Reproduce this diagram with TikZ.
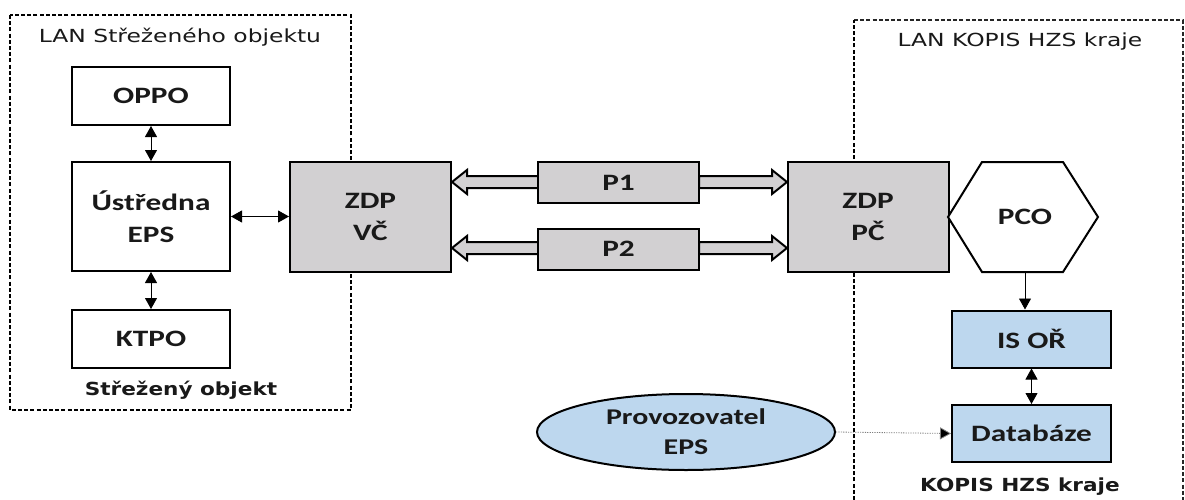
\documentclass[tikz,border=0pt]{standalone}
\usepackage{fontspec}
\usetikzlibrary{arrows.meta,shapes.geometric,calc}
\newfontfamily\boxfont{Carlito}[FakeStretch=1.33]
\newfontfamily\titlefont{DejaVu Sans}[FakeStretch=1.3]
\newfontfamily\capfont{DejaVu Sans}[FakeStretch=1.2]
\definecolor{boxgrey}{RGB}{210,208,210}
\definecolor{boxblue}{RGB}{189,215,238}
\definecolor{txt}{RGB}{25,25,25}
\tikzset{
  blk/.style={draw=black, line width=2pt, minimum width=158pt, minimum height=58pt, align=center, text=txt,
    font=\boxfont\bfseries\fontsize{23.5}{32}\selectfont, inner sep=0pt},
  greybox/.style={blk, fill=boxgrey, minimum width=161pt, minimum height=110pt},
  pbox/.style={blk, fill=boxgrey, minimum width=161pt, minimum height=41pt},
  bluebox/.style={blk, fill=boxblue, minimum width=159pt, minimum height=57pt},
  lanbox/.style={draw=black, line width=1.2pt, dash pattern=on 4pt off 2.2pt},
  lanbox2/.style={draw=black!85, line width=1.1pt, dash pattern=on 4pt off 2.2pt},
  titletxt/.style={font=\titlefont\fontsize{18}{20}\selectfont, text=txt, inner sep=0pt},
  captxt/.style={font=\capfont\bfseries\fontsize{18}{20}\selectfont, text=txt, inner sep=0pt},
  conn/.style={line width=0.9pt, {Triangle[length=11pt,width=12pt]}-{Triangle[length=11pt,width=12pt]}},
  oneway/.style={line width=0.9pt, -{Triangle[length=11pt,width=12pt]}},
  dotarrow/.style={draw=black!50, line width=0.8pt, dash pattern=on 1.2pt off 1.2pt, -{Triangle[length=11pt,width=12pt,fill=black]}},
  fat/.style={fill=boxgrey, draw=black, line width=2pt, line join=miter},
}
\begin{document}
\begin{tikzpicture}[x=1pt,y=-1pt]
\useasboundingbox (0,0) rectangle (1185,500);
\fill[white] (0,0) rectangle (1185,500);
% LAN boxes
\draw[lanbox] (10,15) rectangle (351,410);
\draw[lanbox2] (854,20) -- (1183,20) -- (1183,500);
\draw[lanbox] (854,500) -- (854,20);
\node[titletxt] (lanL) at (180,37) {LAN Střeženého objektu};
\node[titletxt] (lanR) at (1020,42) {LAN KOPIS HZS kraje};
% left nodes
\node[blk, fill=white] (oppo) at (151,96) {OPPO};
\node[blk, fill=white, minimum height=109pt] (ustr) at (151,216.5) {Ústředna\\EPS};
\node[blk, fill=white] (ktpo) at (151,339) {KTPO};
\node[captxt] (strez) at (181,390) {Střežený objekt};
% ZDP
\node[greybox] (zdpv) at (370.5,216.5) {ZDP\\VČ};
\node[greybox] (zdpp) at (868,217) {ZDP\\PČ};
% P boxes with fat arrows
\filldraw[fat] (538,176) -- (467,176) -- (467,170) -- (452,182) -- (467,194) -- (467,188) -- (538,188) -- cycle;
\filldraw[fat] (699,176) -- (772,176) -- (772,170) -- (787,182) -- (772,194) -- (772,188) -- (699,188) -- cycle;
\filldraw[fat] (538,242) -- (467,242) -- (467,236) -- (452,248) -- (467,260) -- (467,254) -- (538,254) -- cycle;
\filldraw[fat] (699,242) -- (772,242) -- (772,236) -- (787,248) -- (772,260) -- (772,254) -- (699,254) -- cycle;
\node[pbox] (p1) at (618.5,182.5) {P1};
\node[pbox] (p2) at (618.5,249) {P2};
% PCO hexagon
\draw[line width=2pt, fill=white, line join=miter] (948,217) -- (982,162) -- (1063,162) -- (1098,217) -- (1063,272) -- (982,272) -- cycle;
\node[font=\boxfont\bfseries\fontsize{23.5}{32}\selectfont, text=txt, minimum height=110pt, minimum width=10pt, inner sep=0pt] (pco) at (1025,217) {PCO};
% blue boxes
\node[bluebox] (isor) at (1031.5,339) {IS OŘ};
\node[bluebox] (db) at (1031.5,433.5) {Databáze};
\node[captxt] (kopis) at (1020,487) {KOPIS HZS kraje};
% ellipse
\node[ellipse, draw=black, line width=2pt, fill=boxblue, minimum width=298pt, minimum height=76pt, inner sep=0pt, align=center, text=txt,
  font=\boxfont\bfseries\fontsize{22.5}{30}\selectfont] (prov) at (686,432) {Provozovatel\\EPS};
% connectors
\draw[conn] (oppo.south) -- (ustr.north);
\draw[conn] (ustr.south) -- (ktpo.north);
\draw[conn] (ustr.east) -- (zdpv.west);
\draw[oneway] (pco.south) -- (isor.north -| pco.south);
\draw[conn] (isor.south) -- (db.north);
\draw[dotarrow] (prov.east) -- (db.west);
\end{tikzpicture}
\end{document}
